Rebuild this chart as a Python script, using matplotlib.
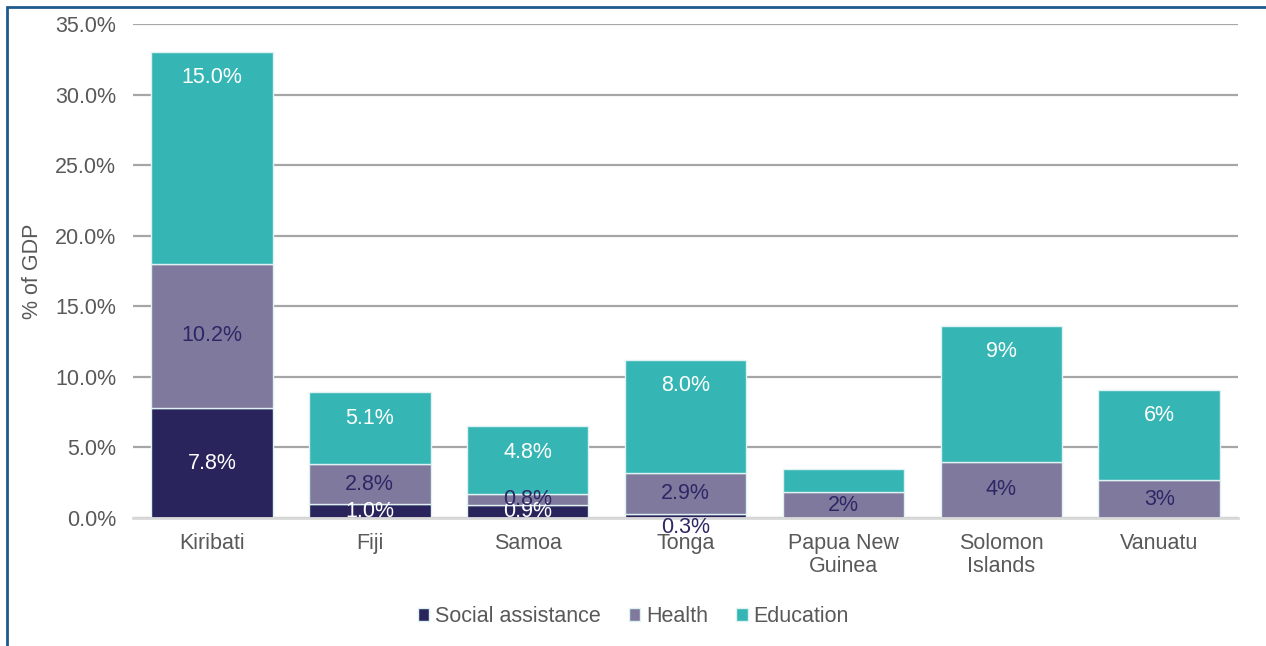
import numpy as np
import matplotlib.pyplot as plt
from matplotlib.patches import Rectangle

plt.rcParams['font.family'] = ['Liberation Sans', 'DejaVu Sans']

countries = ["Kiribati", "Fiji", "Samoa", "Tonga", "Papua New\nGuinea",
             "Solomon\nIslands", "Vanuatu"]
social = [7.8, 1.0, 0.9, 0.3, 0.0, 0.0, 0.0]
health = [10.2, 2.8, 0.8, 2.9, 1.85, 4.0, 2.7]
education = [15.0, 5.1, 4.8, 8.0, 1.6, 9.6, 6.4]

social_labels = ["7.8%", "1.0%", "0.9%", "0.3%", "", "", ""]
health_labels = ["10.2%", "2.8%", "0.8%", "2.9%", "2%", "4%", "3%"]
education_labels = ["15.0%", "5.1%", "4.8%", "8.0%", "", "9%", "6%"]

c_social = "#2a245c"
c_health = "#7f799d"
c_edu = "#35b6b4"
c_dark = "#2e2766"
edge = "#dff2f2"

fig = plt.figure(figsize=(12.66, 6.46), dpi=100)
ax = fig.add_axes([0.105, 0.198, 0.873, 0.765])

x = np.arange(len(countries))
w = 0.77
s = np.array(social)
h = np.array(health)
e = np.array(education)

ax.bar(x, s, w, color=c_social, edgecolor=edge, linewidth=1, label="Social assistance", zorder=3)
ax.bar(x, h, w, bottom=s, color=c_health, edgecolor=edge, linewidth=1, label="Health", zorder=3)
ax.bar(x, e, w, bottom=s + h, color=c_edu, edgecolor=edge, linewidth=1, label="Education", zorder=3)

fs = 15.5
for i in range(len(x)):
    if social_labels[i]:
        if s[i] < 0.5:
            ax.annotate(social_labels[i], (x[i], 0), xytext=(0, -7), textcoords="offset points",
                        ha="center", va="center", color=c_dark, fontsize=fs, zorder=5)
        else:
            ax.text(x[i], s[i] / 2, social_labels[i], ha="center", va="center",
                    color="white", fontsize=fs, zorder=5)
    if health_labels[i]:
        ax.text(x[i], s[i] + h[i] / 2, health_labels[i], ha="center", va="center",
                color=c_dark, fontsize=fs, zorder=5)
    if education_labels[i]:
        ax.annotate(education_labels[i], (x[i], s[i] + h[i] + e[i]), xytext=(0, -18.5),
                    textcoords="offset points", ha="center", va="center",
                    color="white", fontsize=fs, zorder=5)

ax.set_xlim(-0.5, len(x) - 0.5)
ax.set_ylim(0, 35)
ax.set_yticks(np.arange(0, 36, 5))
ax.set_yticklabels([f"{v:.1f}%" for v in np.arange(0, 36, 5)])
ax.set_xticks(x)
ax.set_xticklabels(countries, linespacing=1.1)
ax.tick_params(axis="both", length=0, labelsize=fs, labelcolor="#595959")
ax.tick_params(axis="y", pad=12)
ax.tick_params(axis="x", pad=11)
ax.grid(axis="y", color="#a6a6a6", linewidth=1.6, zorder=0)
for sp in ["top", "right", "left"]:
    ax.spines[sp].set_visible(False)
ax.spines["bottom"].set_color("#d9d9d9")
ax.spines["bottom"].set_linewidth(2)
ax.spines["bottom"].set_zorder(4)
ax.set_ylabel("% of GDP", fontsize=fs, color="#595959", labelpad=9)

ax.legend(loc="center", bbox_to_anchor=(0.5, 0.045), bbox_transform=fig.transFigure,
          ncol=3, frameon=False, fontsize=fs, labelcolor="#595959",
          handlelength=0.55, handleheight=0.55, handletextpad=0.25, columnspacing=1.3)

fig.patches.append(Rectangle((7 / 1266, -0.1), 1.2, 1 - 7 / 646 + 0.1, transform=fig.transFigure,
                             fill=False, edgecolor="#1f5a8c", linewidth=2, zorder=0))

fig.savefig("out.png", dpi=100)
